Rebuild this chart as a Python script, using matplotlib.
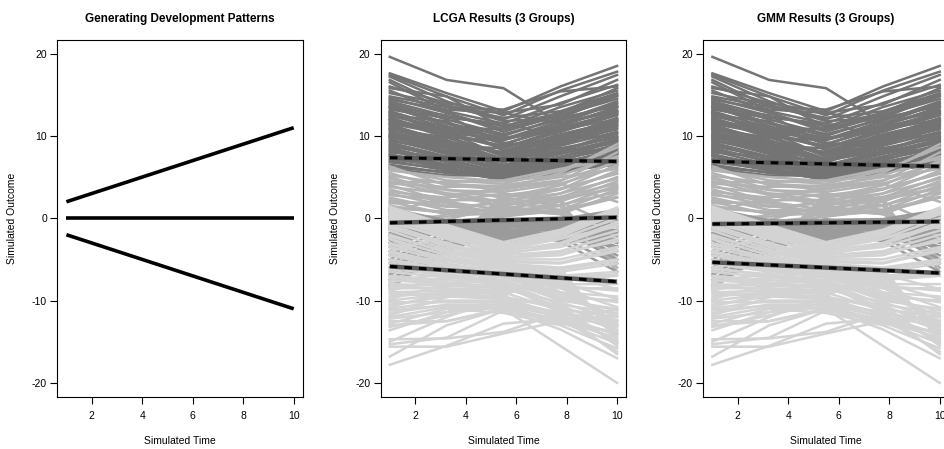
import matplotlib
matplotlib.use("Agg")
import matplotlib.pyplot as plt

plt.rcParams['font.family'] = ['Liberation Sans', 'DejaVu Sans']
plt.rcParams['lines.scale_dashes'] = False
plt.rcParams['axes.unicode_minus'] = False

# generating patterns (start, end at time 1 and 10)
gen_time = [1, 10]
gen_lines = [[2, 11], [0, 0], [-2, -11]]

# simulated trajectories, measured at 5 time points
times = [1, 3.25, 5.5, 7.75, 10]

high = [
    [19.6, 16.8, 15.8, 11.5, 13.0],
    [17.6, 15.2, 13.0, 16.0, 18.5],
    [17.4, 14.8, 12.5, 15.5, 17.8],
    [17.2, 14.2, 12.0, 14.8, 17.4],
    [16.8, 13.5, 13.2, 15.4, 16.0],
    [16.5, 13.0, 11.5, 14.0, 16.2],
    [16.0, 14.0, 12.8, 13.8, 16.8],
    [15.8, 14.8, 11.0, 13.5, 15.5],
    [15.5, 12.8, 10.8, 12.8, 15.0],
    [15.2, 13.8, 11.8, 12.2, 13.6],
    [14.8, 13.5, 12.2, 13.0, 15.2],
    [14.6, 12.8, 10.5, 12.5, 14.5],
    [14.4, 13.2, 12.8, 11.5, 14.0],
    [14.2, 12.4, 11.2, 12.8, 15.8],
    [14.0, 12.0, 10.2, 12.0, 13.8],
    [13.8, 11.5, 9.5, 11.5, 13.2],
    [13.6, 11.2, 9.0, 11.2, 13.5],
    [13.5, 12.5, 9.0, 11.0, 12.8],
    [13.4, 11.6, 10.0, 12.2, 14.9],
    [13.2, 12.2, 11.5, 10.0, 9.8],
    [13.0, 11.0, 9.8, 10.5, 12.5],
    [12.9, 10.0, 7.5, 9.8, 12.2],
    [12.8, 10.5, 8.5, 10.8, 12.0],
    [12.6, 10.6, 9.6, 11.8, 14.2],
    [12.5, 11.8, 8.2, 10.2, 11.8],
    [12.4, 11.0, 10.8, 12.5, 14.8],
    [12.2, 10.2, 8.8, 9.8, 11.5],
    [12.0, 9.8, 7.8, 9.5, 11.2],
    [12.0, 10.4, 9.6, 11.0, 12.6],
    [11.8, 10.8, 9.2, 8.5, 8.0],
    [11.6, 10.5, 7.5, 9.2, 10.8],
    [11.5, 10.2, 8.6, 10.6, 13.0],
    [11.4, 9.2, 7.0, 9.0, 11.0],
    [11.2, 9.5, 7.2, 8.8, 10.5],
    [11.0, 9.0, 6.8, 9.5, 10.2],
    [10.9, 9.0, 8.0, 10.0, 12.0],
    [10.8, 9.8, 9.5, 11.2, 13.5],
    [10.6, 8.8, 7.0, 8.5, 9.8],
    [10.4, 8.6, 6.8, 8.9, 11.3],
    [10.2, 8.2, 6.5, 8.0, 9.5],
    [10.0, 8.5, 6.2, 7.8, 9.2],
    [10.0, 9.4, 8.0, 9.6, 11.8],
    [9.9, 8.0, 6.4, 8.2, 10.4],
    [9.8, 8.8, 8.5, 10.5, 12.8],
    [9.6, 7.8, 6.0, 7.5, 8.8],
    [9.4, 8.2, 7.2, 9.2, 11.6],
    [9.2, 7.5, 5.8, 7.2, 8.5],
    [9.0, 7.2, 5.5, 6.8, 8.2],
    [8.8, 7.4, 6.2, 7.9, 9.6],
    [8.6, 6.8, 5.2, 6.5, 7.8],
    [8.4, 7.0, 5.6, 7.0, 9.0],
    [8.2, 6.5, 5.0, 6.2, 7.5],
    [8.0, 7.5, 7.0, 8.2, 10.0],
    [7.8, 6.2, 4.8, 6.0, 7.2],
    [7.6, 6.5, 5.4, 6.6, 8.4],
    [7.5, 6.0, 4.6, 5.8, 7.0],
    [7.2, 6.3, 5.8, 7.4, 9.4],
    [7.0, 5.8, 4.7, 5.5, 6.8],
    [6.8, 6.0, 5.0, 6.4, 7.8],
    [6.5, 5.5, 5.0, 5.8, 6.5],
    [6.2, 5.6, 4.8, 5.9, 7.0],
    [6.0, 5.2, 5.2, 6.2, 8.0],
]

# middle class, upper and lower halves (drawn in two shades)
middle_upper = [
    [6.3, 4.0, 3.5, 4.5, 8.0],
    [6.0, 4.6, 4.2, 5.8, 8.6],
    [5.8, 5.0, 4.5, 5.2, 7.5],
    [5.5, 3.5, 2.5, 4.0, 7.0],
    [5.2, 4.2, 3.8, 4.6, 6.8],
    [5.0, 3.0, 2.0, 3.5, 6.5],
    [4.8, 3.4, 3.2, 4.2, 6.2],
    [4.5, 2.8, 1.5, 3.0, 5.8],
    [4.4, 4.4, 4.6, 6.0, 7.2],
    [4.2, 3.8, 4.0, 5.0, 6.0],
    [4.0, 2.0, 1.0, 2.5, 5.0],
    [3.8, 3.0, 2.8, 3.6, 5.4],
    [3.5, 1.8, 0.5, 2.0, 4.5],
    [3.2, 2.5, 3.8, 4.2, 2.0],
    [3.0, 1.5, 0.6, 1.5, 4.0],
    [2.8, 2.2, 2.2, 3.0, 4.8],
    [2.5, 1.0, 0.8, 1.0, 3.5],
    [2.2, 1.4, 1.8, 2.6, 4.2],
    [2.0, 0.5, 1.2, 0.5, 3.0],
    [1.8, 2.0, 3.0, 2.0, -1.0],
    [1.5, 0.6, 0.4, 0.8, 2.5],
    [1.2, 0.8, 1.2, 2.2, 3.8],
    [0.8, 2.5, 3.5, 5.5, 9.0],
    [0.2, 0.2, 0.8, 1.6, 3.2],
    [-0.8, -0.4, 0.2, 1.0, 2.6],
    [-1.2, 0.5, 2.5, 3.5, 5.5],
    [-3.0, -0.2, 1.6, 2.4, 3.6],
    [-6.0, -2.0, 0.5, 0.8, -5.0],
    [-6.5, -2.0, 1.0, 0.5, -3.0],
    [-7.0, -2.5, 1.5, 0.6, -4.0],
    [-7.5, -3.0, 2.0, 1.0, -5.5],
    [-8.0, -3.5, 2.5, 1.5, -6.0],
    [-8.5, -4.0, 3.0, 2.0, -6.5],
]

middle_lower = [
    [1.2, -0.3, -0.2, -0.1, 1.0],
    [1.0, -0.5, -0.5, -0.4, 0.8],
    [0.9, -0.2, -0.8, -0.2, -1.5],
    [0.6, -0.6, -1.0, -0.6, 0.6],
    [0.2, -0.8, -1.5, -0.9, 0.2],
    [-0.2, -1.0, -2.0, -1.2, -0.2],
    [-0.6, -1.2, -2.5, -1.5, -0.6],
    [-1.0, -1.4, -2.8, -1.8, -1.0],
    [-1.2, -0.5, -1.6, -1.1, 1.1],
    [-1.4, -1.5, -2.5, -2.0, -1.4],
    [-1.8, -1.3, -2.2, -1.6, -1.8],
    [-2.0, -1.8, -2.7, -1.9, 0.5],
    [-2.2, -1.1, -1.8, -1.3, -2.2],
    [-2.6, -0.9, -1.5, -1.0, -2.6],
    [-3.0, -0.7, -1.2, -0.7, -3.0],
    [-3.5, -0.5, -0.9, -0.5, -3.5],
    [-4.0, -0.4, -0.6, -0.3, -4.0],
    [-4.5, -1.0, -0.3, -0.8, -4.5],
    [-5.0, -1.6, -0.1, -1.4, -5.0],
    [-5.5, -2.0, -1.7, -1.9, -1.6],
    [-6.0, -2.6, -2.2, -2.3, -2.8],
    [-6.8, -3.2, -2.6, -2.6, -3.4],
    [-7.5, -3.5, -2.0, -2.4, -5.5],
    [-8.2, -4.0, -1.4, -2.8, -6.5],
]

low = [
    [1.4, -0.8, -2.9, -1.4, 1.3],
    [1.2, -1.0, -3.2, -1.6, 1.0],
    [1.0, -1.1, -3.4, -1.8, 0.8],
    [0.8, -1.3, -3.3, -2.0, 0.5],
    [1.3, -2.0, -5.5, -9.0, -12.0],
    [0.6, -1.4, -3.6, -2.2, 0.6],
    [0.4, -1.6, -3.8, -2.5, 0.0],
    [0.2, -1.8, -4.0, -3.0, -0.5],
    [0.0, -1.9, -4.4, -3.2, -0.8],
    [-0.2, -2.0, -4.2, -3.5, -1.5],
    [-0.4, -2.5, -4.5, -4.0, -2.0],
    [-0.6, -2.2, -4.8, -4.2, -2.8],
    [-0.8, -3.0, -4.8, -4.5, -2.5],
    [-1.0, -3.5, -5.0, -5.0, -3.5],
    [-1.2, -3.2, -5.2, -5.4, -3.8],
    [-1.5, -3.8, -5.3, -5.5, -4.0],
    [-2.0, -4.2, -5.5, -6.0, -5.0],
    [-2.2, -4.0, -5.6, -6.2, -5.2],
    [-2.5, -4.5, -5.8, -6.5, -5.5],
    [-2.5, -5.5, -8.0, -11.5, -16.5],
    [-3.0, -5.0, -6.0, -7.0, -6.5],
    [-3.2, -4.8, -6.0, -7.2, -6.8],
    [-3.5, -5.2, -6.2, -7.5, -7.0],
    [-4.0, -5.5, -6.5, -8.0, -8.0],
    [-4.0, -2.2, -3.5, -1.6, 1.2],
    [-4.2, -5.8, -6.6, -8.2, -8.8],
    [-4.5, -6.0, -6.8, -8.5, -8.5],
    [-5.0, -6.2, -7.0, -9.0, -9.5],
    [-5.2, -6.4, -7.2, -9.2, -10.2],
    [-5.5, -6.5, -7.2, -9.5, -10.0],
    [-6.0, -7.0, -7.5, -10.0, -11.0],
    [-6.0, -4.5, -3.8, -2.5, -1.0],
    [-6.2, -6.8, -7.6, -9.8, -11.2],
    [-6.5, -7.2, -7.8, -10.5, -11.5],
    [-7.0, -7.5, -8.0, -11.0, -12.0],
    [-7.2, -7.8, -8.4, -10.8, -12.8],
    [-7.5, -8.0, -8.2, -9.0, -12.5],
    [-7.8, -6.6, -5.8, -6.8, -8.6],
    [-8.0, -8.2, -8.5, -8.0, -13.0],
    [-8.2, -8.6, -9.0, -11.2, -13.6],
    [-8.5, -8.5, -8.8, -7.5, -13.5],
    [-8.8, -7.2, -6.4, -7.8, -9.8],
    [-9.0, -8.8, -9.0, -7.0, -14.0],
    [-9.2, -9.4, -9.6, -11.8, -14.2],
    [-9.5, -9.0, -9.2, -6.5, -14.5],
    [-9.8, -8.0, -7.0, -8.5, -10.8],
    [-10.0, -9.2, -9.5, -6.0, -15.0],
    [-10.2, -10.2, -10.2, -12.0, -14.8],
    [-10.5, -9.5, -9.8, -10.5, -15.5],
    [-10.8, -9.0, -8.0, -9.5, -11.8],
    [-11.0, -10.0, -10.0, -11.5, -12.5],
    [-11.2, -10.6, -10.6, -12.6, -15.2],
    [-11.5, -10.5, -10.5, -12.0, -13.0],
    [-11.8, -9.6, -8.6, -10.2, -12.4],
    [-12.0, -10.8, -11.0, -12.5, -14.5],
    [-12.2, -11.4, -10.8, -12.4, -14.0],
    [-12.5, -12.5, -11.0, -12.8, -13.8],
    [-12.8, -11.0, -11.5, -13.0, -15.8],
    [-13.0, -12.5, -11.0, -15.5, -20.0],
    [-13.2, -11.8, -10.2, -11.5, -15.0],
    [-13.6, -11.4, -9.8, -10.6, -13.2],
    [-14.7, -14.6, -13.8, -11.5, -12.8],
    [-15.0, -12.0, -9.5, -11.0, -15.2],
    [-15.3, -14.5, -11.2, -12.2, -16.2],
    [-15.6, -15.6, -14.0, -12.5, -11.0],
    [-16.8, -13.0, -11.0, -13.5, -17.0],
    [-17.8, -15.5, -12.8, -12.2, -14.0],
]

# estimated group means (time 1, time 10)
lcga_means = [[7.35, 6.9], [-0.55, 0.1], [-5.85, -7.7]]
gmm_means = [[6.9, 6.3], [-0.7, -0.4], [-5.35, -6.65]]

titles = ["Generating Development Patterns", "LCGA Results (3 Groups)",
          "GMM Results (3 Groups)"]
groups = [high, middle_upper, middle_lower, low]
group_colors = ['#747474', '#b3b3b3', '#9b9b9b', '#d3d3d3']

fig = plt.figure(figsize=(9.45, 4.49), dpi=100)
lefts = [57.3, 380.7, 703.3]
axes = [fig.add_axes([l / 945, 52.5 / 449, 245.5 / 945, 356.5 / 449]) for l in lefts]


def style(ax, title):
    ax.set_xlim(0.64, 10.36)
    ax.set_ylim(-21.65, 21.65)
    ax.set_xticks([2, 4, 6, 8, 10])
    ax.set_yticks([-20, -10, 0, 10, 20])
    ax.tick_params(axis='both', direction='out', length=5, width=0.8, labelsize=7.5)
    ax.tick_params(axis='x', pad=5.5)
    ax.tick_params(axis='y', pad=2.5)
    for s in ax.spines.values():
        s.set_linewidth(0.8)
    ax.set_title(title, fontsize=8.5, fontweight='bold', pad=13)
    ax.set_xlabel("Simulated Time", fontsize=7.5)
    ax.set_ylabel("Simulated Outcome", fontsize=7.5)
    ax.xaxis.set_label_coords(0.5, -0.11)
    ax.yaxis.set_label_coords(-0.165, 0.5)


ax = axes[0]
for g in gen_lines:
    ax.plot(gen_time, g, color='black', lw=2.6, solid_capstyle='butt')
style(ax, titles[0])

for ax, means, title in zip(axes[1:], [lcga_means, gmm_means], titles[1:]):
    for group, col in zip(groups, group_colors):
        for traj in group:
            ax.plot(times, traj, color=col, lw=1.8)
    for m in means:
        ax.plot(gen_time, m, color='#5c5c5c', lw=3.2, solid_capstyle='butt')
        ax.plot(gen_time, m, color='black', lw=2.2, dashes=(5.5, 5.0), dash_capstyle='butt')
    style(ax, title)

fig.savefig("out.png", dpi=100)
